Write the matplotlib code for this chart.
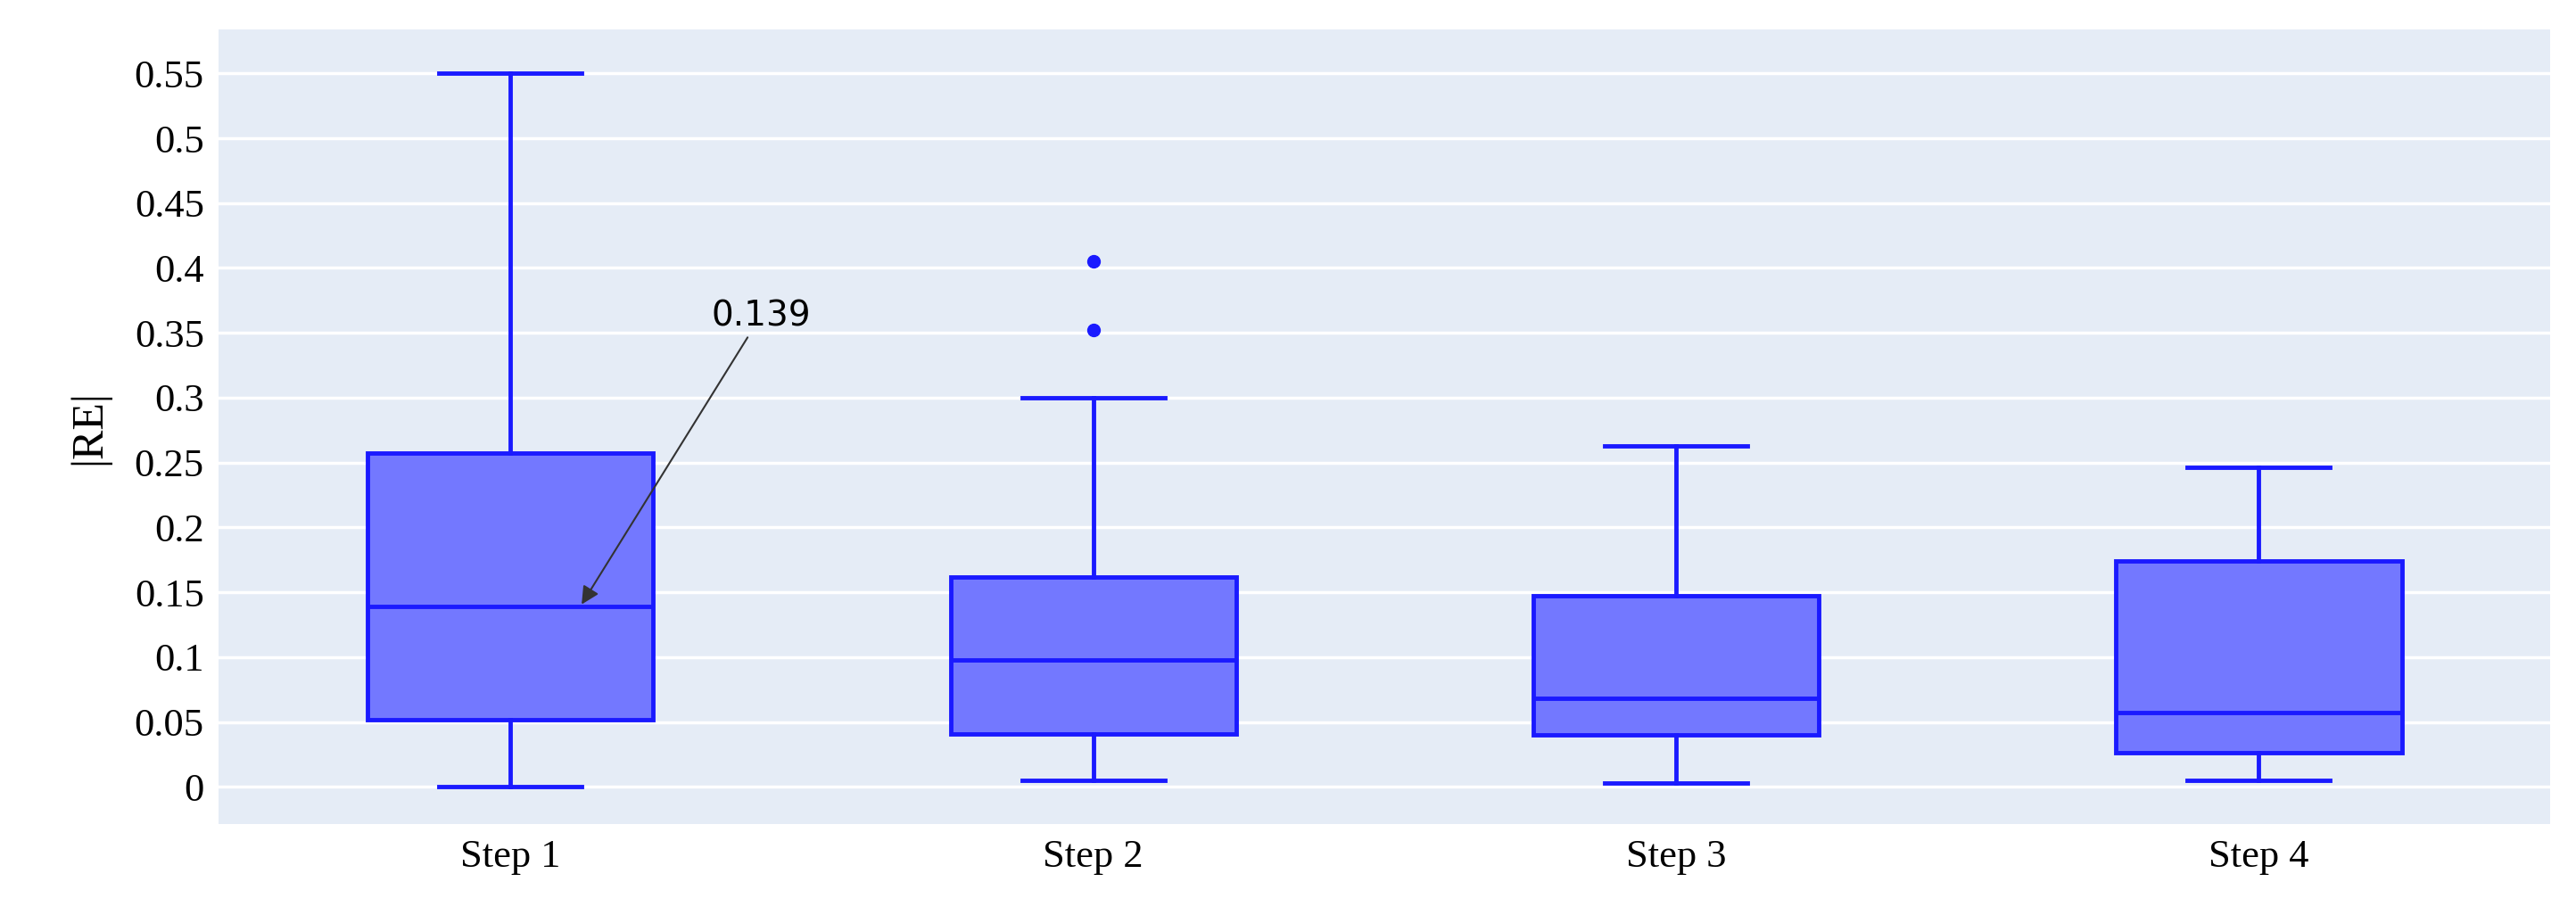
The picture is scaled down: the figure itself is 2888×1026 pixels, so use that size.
import matplotlib
matplotlib.use('Agg')
import matplotlib.pyplot as plt

labels = ['Step 1', 'Step 2', 'Step 3', 'Step 4']
whislo = [0.0, 0.005, 0.003, 0.005]
q1 = [0.052, 0.041, 0.040, 0.026]
med = [0.139, 0.098, 0.068, 0.057]
q3 = [0.257, 0.162, 0.147, 0.174]
whishi = [0.550, 0.300, 0.263, 0.246]
fliers = [[], [0.352, 0.405], [], []]

stats = []
for i in range(4):
    stats.append(dict(label=labels[i], whislo=whislo[i], q1=q1[i], med=med[i],
                      q3=q3[i], whishi=whishi[i], fliers=fliers[i]))

blue = '#1a1aff'
fig = plt.figure(figsize=(28.88, 10.26), dpi=100)
ax = fig.add_axes([0.085, 0.099, 0.905, 0.869])
ax.set_facecolor('#e5ecf6')
ax.bxp(stats, positions=range(4), widths=0.49, patch_artist=True,
       boxprops=dict(facecolor=(0.45, 0.47, 1.0), edgecolor=blue, linewidth=3.5),
       medianprops=dict(color=blue, linewidth=3.5),
       whiskerprops=dict(color=blue, linewidth=3.5),
       capprops=dict(color=blue, linewidth=3.5),
       flierprops=dict(marker='o', markerfacecolor=blue, markeredgecolor=blue, markersize=10),
       capwidths=0.245, zorder=3)
ax.set_xlim(-0.5, 3.5)
ax.set_ylim(-0.029, 0.584)
yt = [0, 0.05, 0.1, 0.15, 0.2, 0.25, 0.3, 0.35, 0.4, 0.45, 0.5, 0.55]
ax.set_yticks(yt)
ax.set_yticklabels(['0' if v == 0 else ('%g' % v) for v in yt])
ax.grid(axis='y', color='white', linewidth=2.5, zorder=0)
ax.set_axisbelow(True)
for s in ax.spines.values():
    s.set_visible(False)
ax.tick_params(length=0, labelsize=32, pad=12)
for t in ax.get_xticklabels() + ax.get_yticklabels():
    t.set_fontfamily('Liberation Serif')
ax.set_ylabel('|RE|', fontsize=36, fontfamily='Liberation Serif', labelpad=20)
ax.annotate('0.139', xy=(0.12, med[0]), xytext=(0.43, 0.35), fontsize=28,
            ha='center', va='bottom',
            arrowprops=dict(arrowstyle='-|>', color='#333333', lw=1.5, mutation_scale=30))
fig.savefig('out.png')
